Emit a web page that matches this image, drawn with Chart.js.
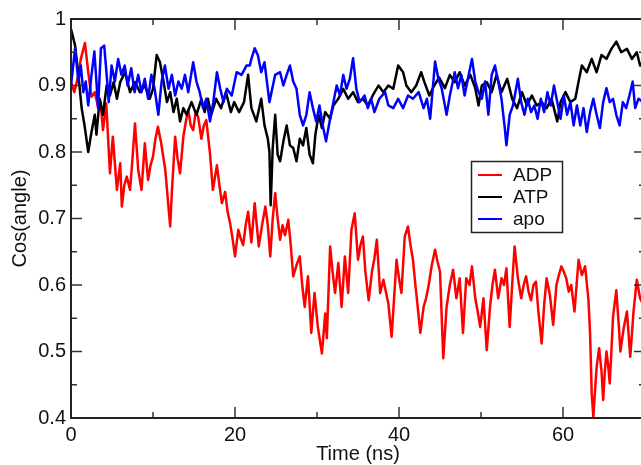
<!DOCTYPE html>
<html><head><meta charset="utf-8">
<script src="https://cdn.jsdelivr.net/npm/chart.js@4.4.0/dist/chart.umd.min.js"></script>
<style>html,body{margin:0;padding:0;overflow:hidden;background:#fff;width:641px;height:465px}#wrap{width:680px;height:465px}</style>
</head><body><div id="wrap"><canvas id="c" width="680" height="465"></canvas></div>
<script>
// ---- data (time in ns, cos(angle)) ----
const seriesNames = ['ADP', 'ATP', 'apo'];
const seriesColors = ['#ff0000', '#000000', '#0000ff'];

const adpT = [0,0.4,0.8,1.2,1.7,2.1,2.5,2.9,3.3,3.6,3.9,4.3,4.75,5.1,5.6,6.0,6.2,6.5,6.8,7.2,7.5,7.8,8.2,8.6,9.0,9.4,9.7,10.0,10.3,10.6,11.0,11.5,11.8,12.1,12.3,12.7,13.0,13.3,13.7,14.0,14.3,14.6,14.9,15.2,15.5,15.9,16.2,16.5,16.95,17.3,17.8,18.1,18.4,18.8,19.1,19.4,19.7,20.0,20.4,20.7,21.0,21.3,21.6,22.0,22.4,22.9,23.3,23.7,24.0,24.3,24.6,24.9,25.2,25.5,25.8,26.1,26.5,26.8,27.1,27.5,27.9,28.2,28.5,28.9,29.3,29.7,30.1,30.6,31.0,31.2,31.6,31.9,32.2,32.6,33.0,33.4,33.8,34.2,34.6,35.0,35.3,35.6,35.9,36.3,36.7,37.0,37.3,37.7,38.1,38.4,38.7,39.1,39.4,39.7,40.0,40.3,40.7,41.1,41.4,41.7,42.0,42.2,42.6,43.0,43.3,43.6,44.0,44.4,44.7,45.0,45.4,45.8,46.2,46.6,47.0,47.4,47.8,48.2,48.6,48.9,49.3,49.6,49.9,50.3,50.7,51.1,51.4,51.7,52.1,52.5,52.8,53.1,53.5,53.8,54.1,54.5,54.9,55.2,55.5,55.8,56.1,56.4,56.7,57.0,57.4,57.7,58.0,58.4,58.8,59.2,59.5,59.8,60.1,60.4,60.7,61.0,61.4,61.9,62.3,62.7,63.1,63.3,63.5,63.7,63.9,64.1,64.4,64.7,64.9,65.1,65.3,65.5,65.7,65.9,66.1,66.5,66.8,67.0,67.4,67.8,68.2,68.6,69.0,69.4,69.8];
const adpV = [0.905,0.89,0.91,0.94,0.964,0.92,0.883,0.89,0.868,0.875,0.833,0.873,0.768,0.823,0.743,0.783,0.718,0.75,0.763,0.743,0.79,0.843,0.773,0.743,0.813,0.758,0.78,0.793,0.82,0.838,0.813,0.773,0.73,0.688,0.74,0.823,0.79,0.768,0.823,0.845,0.863,0.84,0.833,0.86,0.853,0.82,0.84,0.848,0.798,0.743,0.78,0.75,0.723,0.74,0.71,0.693,0.67,0.643,0.683,0.67,0.66,0.69,0.71,0.664,0.723,0.658,0.69,0.718,0.69,0.643,0.7,0.738,0.7,0.668,0.69,0.675,0.698,0.66,0.613,0.63,0.643,0.6,0.567,0.613,0.528,0.588,0.537,0.497,0.557,0.52,0.658,0.62,0.588,0.633,0.567,0.643,0.588,0.683,0.708,0.638,0.66,0.673,0.62,0.577,0.62,0.64,0.668,0.588,0.608,0.59,0.572,0.522,0.58,0.638,0.61,0.588,0.673,0.688,0.66,0.638,0.6,0.577,0.528,0.567,0.58,0.598,0.63,0.653,0.635,0.62,0.49,0.567,0.6,0.623,0.58,0.61,0.528,0.61,0.6,0.628,0.58,0.56,0.537,0.58,0.502,0.567,0.6,0.623,0.58,0.61,0.6,0.625,0.537,0.6,0.658,0.61,0.58,0.6,0.613,0.59,0.577,0.6,0.605,0.56,0.512,0.57,0.61,0.585,0.54,0.6,0.615,0.628,0.62,0.61,0.59,0.6,0.56,0.638,0.615,0.628,0.578,0.528,0.437,0.402,0.44,0.477,0.505,0.47,0.427,0.47,0.5,0.48,0.452,0.5,0.552,0.592,0.54,0.5,0.535,0.56,0.492,0.56,0.608,0.58,0.57];

const atpT = [0,0.2,0.5,0.9,1.3,1.7,2.1,2.5,2.9,3.1,3.5,3.9,4.35,4.75,5.2,5.6,6.0,6.6,7.2,7.8,8.4,9.0,9.6,10.0,10.45,10.85,11.3,11.7,12.1,12.5,12.9,13.3,13.7,14.1,14.7,15.3,15.9,16.3,16.7,17.1,17.7,18.3,18.9,19.5,19.9,20.5,21.1,21.6,22.0,22.6,23.2,23.6,24.0,24.2,24.35,24.6,24.9,25.2,25.5,25.9,26.3,26.7,27.1,27.5,27.9,28.3,28.7,29.1,29.5,29.8,30.2,30.6,31.0,31.6,32.0,32.6,33.2,33.8,34.4,35.0,35.6,36.2,36.8,37.5,38.1,38.7,39.3,39.9,40.5,40.9,41.5,42.1,42.7,43.1,43.7,44.3,44.9,45.6,46.2,46.8,47.4,48.0,48.7,49.3,49.7,50.1,50.7,51.3,51.9,52.5,53.2,53.8,54.4,55.0,55.6,56.2,56.8,57.4,58.0,58.6,59.3,59.7,60.3,60.9,61.5,61.9,62.3,62.9,63.5,64.1,64.7,65.3,65.9,66.5,67.1,67.8,68.4,69.0,69.4,69.8];
const atpV = [0.985,0.975,0.96,0.916,0.866,0.836,0.80,0.83,0.856,0.826,0.88,0.856,0.90,0.885,0.905,0.88,0.905,0.92,0.89,0.905,0.89,0.90,0.88,0.895,0.946,0.935,0.905,0.875,0.89,0.86,0.88,0.846,0.866,0.856,0.875,0.856,0.88,0.86,0.88,0.856,0.88,0.866,0.89,0.86,0.875,0.86,0.875,0.916,0.866,0.846,0.88,0.84,0.82,0.80,0.72,0.806,0.856,0.796,0.786,0.816,0.84,0.81,0.806,0.786,0.82,0.81,0.836,0.796,0.783,0.826,0.856,0.836,0.86,0.85,0.87,0.88,0.895,0.88,0.89,0.875,0.88,0.87,0.885,0.90,0.89,0.90,0.895,0.93,0.92,0.90,0.89,0.90,0.92,0.905,0.885,0.90,0.912,0.896,0.916,0.905,0.92,0.90,0.916,0.896,0.87,0.90,0.905,0.89,0.916,0.89,0.91,0.88,0.866,0.89,0.87,0.885,0.87,0.875,0.866,0.88,0.846,0.875,0.89,0.875,0.88,0.906,0.93,0.92,0.94,0.92,0.946,0.94,0.955,0.966,0.95,0.955,0.94,0.95,0.93,0.935];

const apoT = [0,0.5,0.9,1.2,1.5,1.8,2.1,2.5,2.85,3.1,3.3,3.65,4.05,4.35,4.6,4.95,5.35,5.75,6.15,6.55,6.9,7.35,7.75,8.2,8.6,9.0,9.4,9.8,10.2,10.65,11.05,11.45,11.9,12.3,12.7,13.1,13.5,13.9,14.3,14.9,15.3,15.7,16.1,16.5,16.95,17.35,17.8,18.2,18.6,19.0,19.6,20.2,20.8,21.4,21.8,22.0,22.4,22.8,23.2,23.6,24.2,24.9,25.5,25.9,26.3,26.7,27.1,27.5,27.9,28.3,28.7,29.1,29.5,29.9,30.3,30.7,31.1,31.6,32.0,32.4,32.8,33.2,33.6,34.0,34.4,34.8,35.2,35.8,36.2,36.6,37.0,37.6,38.3,38.7,39.3,39.9,40.5,41.1,41.7,42.4,43.0,43.4,43.8,44.4,44.8,45.2,45.6,45.8,46.2,46.8,47.2,47.6,48.0,48.5,48.9,49.3,49.7,50.1,50.5,50.9,51.3,51.7,52.1,52.5,52.9,53.1,53.5,53.9,54.5,54.9,55.3,55.7,56.1,56.5,56.9,57.3,57.7,58.1,58.5,58.9,59.3,59.7,60.1,60.5,60.9,61.3,61.7,62.1,62.5,62.9,63.3,63.7,64.1,64.5,64.9,65.3,65.7,66.1,66.5,66.9,67.3,67.7,68.1,68.5,68.8,69.2,69.8];
const apoV = [0.90,0.956,0.906,0.93,0.89,0.906,0.87,0.916,0.951,0.906,0.866,0.956,0.96,0.916,0.875,0.93,0.906,0.94,0.916,0.93,0.90,0.926,0.89,0.916,0.89,0.91,0.88,0.916,0.895,0.856,0.906,0.93,0.895,0.916,0.885,0.906,0.895,0.916,0.89,0.935,0.906,0.89,0.866,0.88,0.846,0.875,0.92,0.895,0.875,0.895,0.885,0.92,0.916,0.93,0.93,0.94,0.956,0.945,0.92,0.935,0.875,0.916,0.92,0.90,0.916,0.93,0.906,0.895,0.856,0.84,0.856,0.89,0.866,0.846,0.87,0.84,0.816,0.85,0.875,0.90,0.885,0.916,0.895,0.91,0.941,0.895,0.875,0.885,0.866,0.88,0.86,0.88,0.89,0.87,0.866,0.88,0.866,0.885,0.88,0.89,0.866,0.88,0.85,0.936,0.91,0.896,0.87,0.856,0.885,0.92,0.896,0.916,0.885,0.916,0.94,0.906,0.89,0.88,0.906,0.856,0.916,0.93,0.906,0.88,0.836,0.81,0.856,0.87,0.91,0.875,0.856,0.88,0.86,0.87,0.85,0.88,0.86,0.89,0.87,0.90,0.875,0.85,0.885,0.856,0.875,0.84,0.87,0.84,0.866,0.83,0.86,0.88,0.856,0.836,0.875,0.896,0.875,0.88,0.856,0.84,0.875,0.866,0.885,0.906,0.866,0.88,0.875];

// ---- axes ----
const xTickVals = [0, 20, 40, 60];
const xMinorVals = [10, 30, 50, 70];
const yTickVals = [0.4, 0.5, 0.6, 0.7, 0.8, 0.9, 1];
const yMinorVals = [0.45, 0.55, 0.65, 0.75, 0.85, 0.95];
const xTitle = 'Time (ns)';
const yTitle = 'Cos(angle)';

const FONT = "'Liberation Sans', Arial, Helvetica, sans-serif";
const toPts = (t, v) => t.map((x, i) => ({x: x, y: v[i]}));

const frame = {
  id: 'frame',
  afterDatasetsDraw(chart) {
    const {ctx, chartArea: a, scales: {x, y}} = chart;
    ctx.save();
    ctx.strokeStyle = '#333';
    ctx.lineWidth = 1.5;
    const ln = (x1, y1, x2, y2) => { ctx.beginPath(); ctx.moveTo(x1, y1); ctx.lineTo(x2, y2); ctx.stroke(); };
    xTickVals.forEach(v => { const p = x.getPixelForValue(v); ln(p, a.bottom, p, a.bottom - 11); ln(p, a.top, p, a.top + 11); });
    xMinorVals.forEach(v => { const p = x.getPixelForValue(v); ln(p, a.bottom, p, a.bottom - 6); ln(p, a.top, p, a.top + 6); });
    yTickVals.forEach(v => { const p = y.getPixelForValue(v); ln(a.left, p, a.left + 11, p); ln(a.right, p, a.right - 11, p); });
    yMinorVals.forEach(v => { const p = y.getPixelForValue(v); ln(a.left, p, a.left + 6, p); ln(a.right, p, a.right - 6, p); });
    ctx.strokeStyle = '#222';
    ctx.lineWidth = 2;
    ctx.strokeRect(a.left, a.top, a.right - a.left, a.bottom - a.top);
    ctx.restore();
  }
};

const legendBox = {
  id: 'legendBox',
  afterDraw(chart) {
    const ctx = chart.ctx;
    ctx.save();
    const bx = 471, by = 161, bw = 92, bh = 72;
    ctx.fillStyle = '#fff';
    ctx.fillRect(bx, by, bw, bh);
    ctx.strokeStyle = '#222';
    ctx.lineWidth = 1.5;
    ctx.strokeRect(bx + 0.5, by + 0.5, bw - 1, bh - 1);
    chart.data.datasets.forEach((ds, i) => {
      const yy = by + 14 + i * 22;
      ctx.strokeStyle = ds.borderColor;
      ctx.lineWidth = 2;
      ctx.beginPath(); ctx.moveTo(bx + 7, yy); ctx.lineTo(bx + 31, yy); ctx.stroke();
      ctx.fillStyle = '#111';
      ctx.font = '19px ' + FONT;
      ctx.textBaseline = 'middle';
      ctx.textAlign = 'left';
      ctx.fillText(ds.label, bx + 42, yy + 1);
    });
    ctx.restore();
  }
};

new Chart(document.getElementById('c'), {
  type: 'line',
  data: {
    datasets: [
      {label: seriesNames[0], data: toPts(adpT, adpV), borderColor: seriesColors[0], order: 2},
      {label: seriesNames[1], data: toPts(atpT, atpV), borderColor: seriesColors[1], order: 1},
      {label: seriesNames[2], data: toPts(apoT, apoV), borderColor: seriesColors[2], order: 0}
    ]
  },
  options: {
    responsive: false,
    animation: false,
    devicePixelRatio: 1,
    layout: {padding: {left: 0, top: 19, right: 35, bottom: 0}},
    elements: {
      line: {borderWidth: 2.5, tension: 0, fill: false, borderJoinStyle: 'round'},
      point: {radius: 0, hoverRadius: 0}
    },
    plugins: {legend: {display: false}, tooltip: {enabled: false}},
    scales: {
      x: {
        type: 'linear', min: 0, max: 70,
        afterBuildTicks: s => { s.ticks = xTickVals.map(v => ({value: v})); },
        afterFit: s => { s.height = 47; },
        grid: {display: false, drawTicks: false},
        border: {display: false},
        ticks: {padding: 5, color: '#111', font: {family: FONT, size: 20}, maxRotation: 0},
        title: {display: true, text: xTitle, color: '#111', font: {family: FONT, size: 20, lineHeight: 1.1}, padding: 0}
      },
      y: {
        type: 'linear', min: 0.4, max: 1,
        afterBuildTicks: s => { s.ticks = yTickVals.map(v => ({value: v})); },
        afterFit: s => { s.width = 71; },
        grid: {display: false, drawTicks: false},
        border: {display: false},
        ticks: {padding: 5, color: '#111', font: {family: FONT, size: 20}, callback: v => String(Math.round(v * 10) / 10)},
        title: {display: true, text: yTitle, color: '#111', font: {family: FONT, size: 20, lineHeight: 1.2}, padding: {top: 8, bottom: 0}}
      }
    }
  },
  plugins: [frame, legendBox]
});
</script></body></html>
